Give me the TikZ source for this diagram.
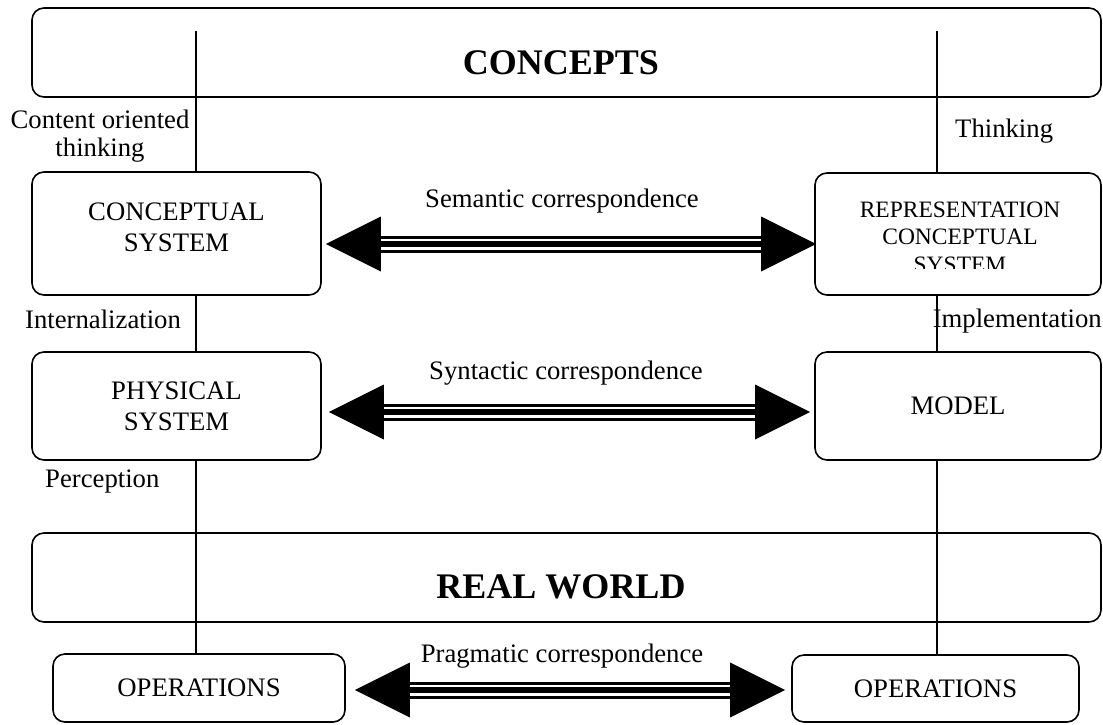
\documentclass[tikz,border=0pt]{standalone}
\usepackage{fontspec}
\setmainfont{Liberation Serif}
\usetikzlibrary{calc}

% double-headed correspondence arrow with a triple-line shaft
\newcommand\corrarrow[2]{%
  \fill (#1) -- ++(55,-27.5) -- ++(0,55) -- cycle;
  \fill (#2) -- ++(-55,-27.5) -- ++(0,55) -- cycle;
  \draw[line width=3pt]   ($(#1)+(54,-7)$) -- ($(#2)+(-54,-7)$);
  \draw[line width=5.5pt] ($(#1)+(54,0)$)  -- ($(#2)+(-54,0)$);
  \draw[line width=3pt]   ($(#1)+(54,7)$)  -- ($(#2)+(-54,7)$);
}

\begin{document}
\begin{tikzpicture}[x=1pt,y=-1pt,
  box/.style={draw, line width=1.6pt, rounded corners=12pt, fill=white,
    inner sep=0pt, align=center, font=\fontsize{26.7}{31}\selectfont},
  frame/.style={draw, line width=1.6pt, rounded corners=12pt, inner sep=0pt},
  lbl/.style={inner sep=0pt, align=center, font=\fontsize{26.7}{28}\selectfont},
  title/.style={inner sep=0pt, font=\fontsize{36}{40}\selectfont\bfseries},
  axis/.style={line width=1.2pt}]

\useasboundingbox (0,0) rectangle (1103,724);

% large frames
\node[frame, minimum width=1069pt, minimum height=89pt] (concepts) at (566.5,52.5) {};
\node[frame, minimum width=1069pt, minimum height=89pt] (real) at (566.5,577.5) {};
\node[title] (conceptsT) at (561,63) {CONCEPTS};
\node[title] (realT) at (561,587) {REAL WORLD};

% system boxes
\node[box, minimum width=289pt, minimum height=123pt, text depth=12pt] (conc) at (176.5,233.5) {CONCEPTUAL\\SYSTEM};
\node[box, minimum width=286pt, minimum height=122pt] (rep) at (958,234) {};
\begin{scope}
  \clip (rep.north west) rectangle ($(rep.south east)+(0,-27)$);
  \node[inner sep=0pt, align=center, font=\fontsize{23.5}{27.5}\selectfont] (repT) at (960,237)
    {REPRESENTATION\\CONCEPTUAL\\SYSTEM};
\end{scope}
\node[box, minimum width=289pt, minimum height=108pt] (phys) at (176.5,406) {PHYSICAL\\SYSTEM};
\node[box, minimum width=286pt, minimum height=108pt] (model) at (958,406) {MODEL};
\node[box, minimum width=292pt, minimum height=68pt] (opsL) at (199,688) {OPERATIONS};
\node[box, minimum width=287pt, minimum height=67pt] (opsR) at (935.5,688.5) {OPERATIONS};

% vertical axes
\coordinate (lt) at (196,31);
\coordinate (rt) at (937,31);
\draw[axis] (lt) -- (lt |- conc.north);
\draw[axis] (lt |- conc.south) -- (lt |- phys.north);
\draw[axis] (lt |- phys.south) -- (lt |- opsL.north);
\draw[axis] (rt) -- (rt |- rep.north);
\draw[axis] (rt |- rep.south) -- (rt |- model.north);
\draw[axis] (rt |- model.south) -- (rt |- opsR.north);

% side labels
\node[lbl] (content) at (100,136) {Content oriented\\thinking};
\node[lbl, anchor=base west] (thinking) at (955,137) {Thinking};
\node[lbl, anchor=base west] (intern) at (25,328) {Internalization};
\node[lbl, anchor=base east] (implem) at (1102,327) {Implementation};
\node[lbl, anchor=base west] (percep) at (45,487) {Perception};

% correspondences
\coordinate (semL) at ($(conc.east)+(4,10.5)$);
\coordinate (semR) at ($(rep.west)+(2,10)$);
\corrarrow{semL}{semR}
\node[lbl, anchor=base] (semT) at (562,207) {Semantic correspondence};

\coordinate (synL) at ($(phys.east)+(7,6)$);
\coordinate (synR) at ($(model.west)+(-4,6)$);
\corrarrow{synL}{synR}
\node[lbl, anchor=base] (synT) at (566,379) {Syntactic correspondence};

\coordinate (praL) at ($(opsL.east)+(9,2)$);
\coordinate (praR) at ($(opsR.west)+(-6,1.5)$);
\corrarrow{praL}{praR}
\node[lbl, anchor=base] (praT) at (562,662) {Pragmatic correspondence};
\end{tikzpicture}
\end{document}
